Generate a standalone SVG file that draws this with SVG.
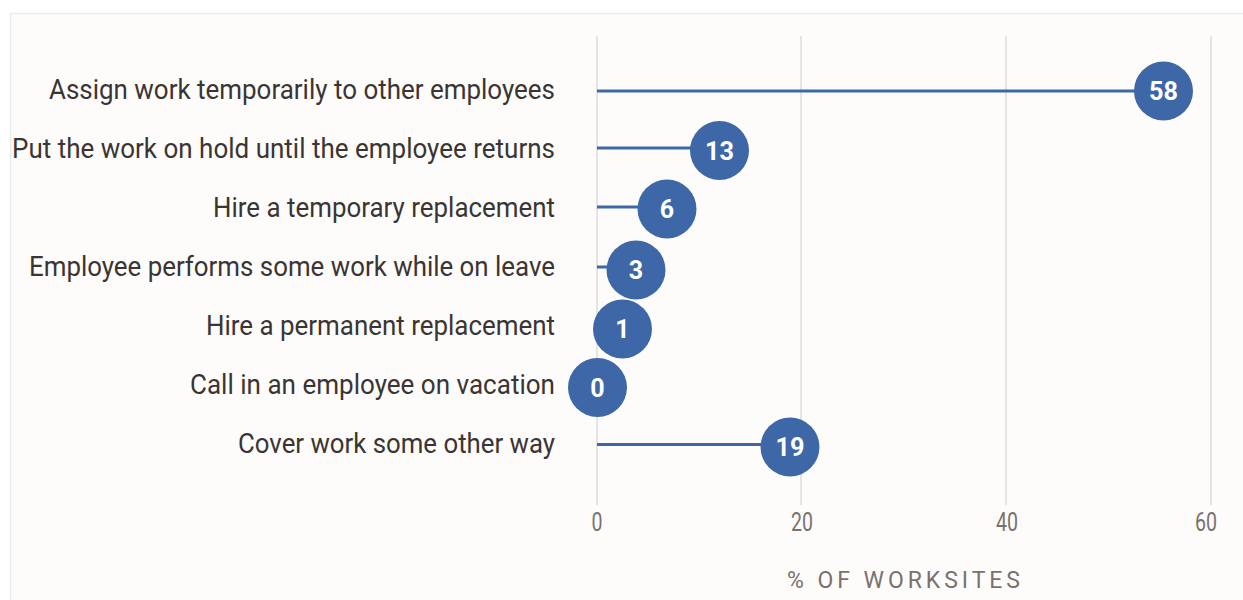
<svg xmlns="http://www.w3.org/2000/svg" width="1243" height="600" viewBox="0 0 1243 600">
<style>
.lbl{font-family:Roboto,"Liberation Sans",sans-serif;font-size:28px;fill:#3a3533;text-anchor:end}
.grid{stroke:#dcdcdc;stroke-width:1.5}
.stem{stroke:#3d67a6;stroke-width:3}
.dot{fill:#3d67a6}
.val{font-family:Roboto,"Liberation Sans",sans-serif;font-size:25px;font-weight:bold;fill:#ffffff;text-anchor:middle}
.tick{font-family:Roboto,"Liberation Sans",sans-serif;font-size:25px;fill:#7a716d;text-anchor:middle}
.title{font-family:Roboto,"Liberation Sans",sans-serif;font-size:23px;fill:#7a716d;text-anchor:middle}
</style>
<rect width="1243" height="600" fill="#ffffff"/>
<rect x="10.5" y="13.5" width="1240" height="600" fill="#fdfcfb" stroke="#ebebeb" stroke-width="1.5"/>
<g id="grid">
<line class="grid" x1="597" y1="36" x2="597" y2="505"/>
<line class="grid" x1="801" y1="36" x2="801" y2="505"/>
<line class="grid" x1="1006" y1="36" x2="1006" y2="505"/>
<line class="grid" x1="1211" y1="36" x2="1211" y2="505"/>
</g>
<g id="axis">
<text class="tick" x="597" y="531" textLength="11" lengthAdjust="spacingAndGlyphs">0</text>
<text class="tick" x="802" y="531" textLength="22" lengthAdjust="spacingAndGlyphs">20</text>
<text class="tick" x="1007" y="531" textLength="22" lengthAdjust="spacingAndGlyphs">40</text>
<text class="tick" x="1206" y="531" textLength="22" lengthAdjust="spacingAndGlyphs">60</text>
<text class="title" x="903.5" y="588" textLength="233" lengthAdjust="spacing">% OF WORKSITES</text>
</g>
<g id="connectors">
<line class="stem" x1="597" y1="91" x2="1163" y2="91"/>
<line class="stem" x1="597" y1="148" x2="720" y2="148"/>
<line class="stem" x1="597" y1="207" x2="667" y2="207"/>
<line class="stem" x1="597" y1="267" x2="636" y2="267"/>
<line class="stem" x1="597" y1="444.5" x2="790" y2="444.5"/>
</g>
<g id="row1">
<text class="lbl" x="555" y="99" textLength="506" lengthAdjust="spacingAndGlyphs">Assign work temporarily to other employees</text>
<circle class="dot" cx="1163.5" cy="91" r="29.5"/>
<text class="val" x="1163.5" y="100" textLength="29" lengthAdjust="spacingAndGlyphs">58</text>
</g>
<g id="row2">
<text class="lbl" x="555" y="158" textLength="543" lengthAdjust="spacingAndGlyphs">Put the work on hold until the employee returns</text>
<circle class="dot" cx="719.5" cy="150.5" r="29.5"/>
<text class="val" x="719.5" y="159.5" textLength="29" lengthAdjust="spacingAndGlyphs">13</text>
</g>
<g id="row3">
<text class="lbl" x="555" y="217" textLength="342" lengthAdjust="spacingAndGlyphs">Hire a temporary replacement</text>
<circle class="dot" cx="667" cy="209" r="29.5"/>
<text class="val" x="667" y="218">6</text>
</g>
<g id="row4">
<text class="lbl" x="555" y="276" textLength="526" lengthAdjust="spacingAndGlyphs">Employee performs some work while on leave</text>
<circle class="dot" cx="636" cy="270" r="29.5"/>
<text class="val" x="636" y="279">3</text>
</g>
<g id="row5">
<text class="lbl" x="555" y="335" textLength="349" lengthAdjust="spacingAndGlyphs">Hire a permanent replacement</text>
<circle class="dot" cx="622.5" cy="329" r="29.5"/>
<text class="val" x="622.5" y="338">1</text>
</g>
<g id="row6">
<text class="lbl" x="555" y="394" textLength="365" lengthAdjust="spacingAndGlyphs">Call in an employee on vacation</text>
<circle class="dot" cx="597.5" cy="387.5" r="29.5"/>
<text class="val" x="597.5" y="396.5">0</text>
</g>
<g id="row7">
<text class="lbl" x="555" y="453" textLength="317" lengthAdjust="spacingAndGlyphs">Cover work some other way</text>
<circle class="dot" cx="790" cy="447" r="29.5"/>
<text class="val" x="790" y="456" textLength="29" lengthAdjust="spacingAndGlyphs">19</text>
</g>
</svg>
